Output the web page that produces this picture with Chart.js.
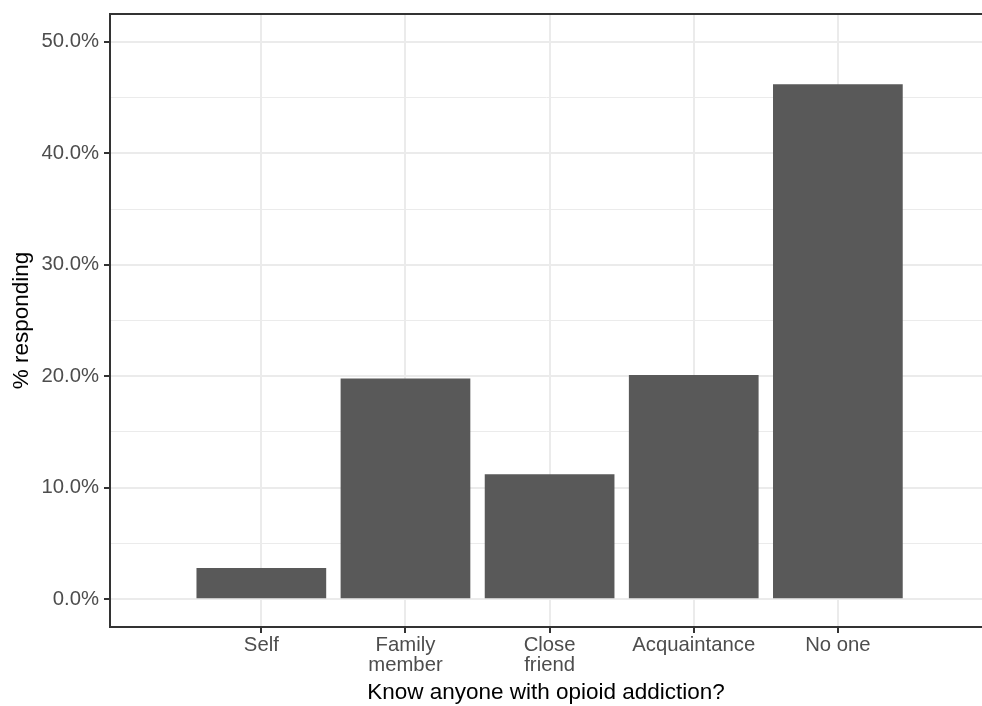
<!DOCTYPE html>
<html>
<head>
<meta charset="utf-8">
<script src="https://cdn.jsdelivr.net/npm/chart.js@4.4.1/dist/chart.umd.min.js"></script>
<style>
  body { margin: 0; background: #ffffff; }
  #wrap { width: 982px; height: 706px; overflow: hidden; }
</style>
</head>
<body>
<div id="wrap"><canvas id="chart" width="982" height="706"></canvas></div>
<script>
// x categories (multi-line labels as arrays)
var categories = ['Self', ['Family', 'member'], ['Close', 'friend'], 'Acquaintance', 'No one'];
// % responding
var percents = [2.8, 19.8, 11.2, 20.1, 46.2];
// y axis ticks
var majorTicks = [0, 10, 20, 30, 40, 50];
var minorTicks = [5, 15, 25, 35, 45];

var points = [];
for (var i = 0; i < percents.length; i++) {
  points.push({ x: i + 1, y: percents[i] });
}

function isMajor(v) { return majorTicks.indexOf(v) >= 0; }

// panel border, theme_bw style (right side is cut off in the reference)
var panelBorder = {
  id: 'panelBorder',
  afterDraw: function (chart) {
    var a = chart.chartArea, ctx = chart.ctx;
    ctx.save();
    ctx.strokeStyle = '#333333';
    ctx.lineWidth = 2;
    ctx.beginPath();
    ctx.moveTo(chart.width, a.top);
    ctx.lineTo(a.left, a.top);
    ctx.lineTo(a.left, a.bottom);
    ctx.lineTo(chart.width, a.bottom);
    ctx.stroke();
    ctx.restore();
  }
};

Chart.defaults.font.family = "'Liberation Sans', Arial, Helvetica, sans-serif";

new Chart(document.getElementById('chart'), {
  type: 'bar',
  data: {
    datasets: [{
      label: '% responding',
      data: points,
      backgroundColor: '#595959',
      borderWidth: 0,
      barPercentage: 0.9,
      categoryPercentage: 1.0
    }]
  },
  options: {
    responsive: false,
    animation: false,
    layout: { padding: { top: 14, left: 0, right: 0, bottom: 0 } },
    plugins: {
      legend: { display: false },
      tooltip: { enabled: false }
    },
    scales: {
      x: {
        type: 'linear',
        min: -0.05,
        max: 6,
        offset: false,
        afterBuildTicks: function (s) {
          s.ticks = categories.map(function (c, i) { return { value: i + 1 }; });
        },
        afterFit: function (s) { s.height = 79; },
        ticks: {
          callback: function (v) { return categories[v - 1]; },
          color: '#4d4d4d',
          font: { size: 20.3, lineHeight: 0.95 },
          padding: 3,
          maxRotation: 0,
          autoSkip: false
        },
        grid: {
          offset: false,
          color: '#ebebeb',
          lineWidth: 2,
          drawTicks: true,
          tickLength: 6,
          tickColor: '#333333',
          tickWidth: 2
        },
        border: { display: true, color: '#333333', width: 2 },
        title: {
          display: true,
          text: 'Know anyone with opioid addiction?',
          color: '#000000',
          font: { size: 22.5 },
          padding: { top: 0, bottom: 0 }
        }
      },
      y: {
        min: -2.5,
        max: 52.5,
        afterBuildTicks: function (s) {
          var all = majorTicks.concat(minorTicks).sort(function (a, b) { return a - b; });
          s.ticks = all.map(function (v) { return { value: v }; });
        },
        afterFit: function (s) {
          s.width = 110;
          s.paddingTop = 0;
          s.paddingBottom = 0;
        },
        ticks: {
          callback: function (v) { return isMajor(v) ? v.toFixed(1) + '%' : ''; },
          color: '#4d4d4d',
          font: { size: 20.3 },
          padding: 5
        },
        grid: {
          color: '#ebebeb',
          lineWidth: function (ctx) { return ctx.tick && isMajor(ctx.tick.value) ? 2 : 1; },
          drawTicks: true,
          tickLength: 6,
          tickWidth: 2,
          tickColor: function (ctx) { return ctx.tick && isMajor(ctx.tick.value) ? '#333333' : 'rgba(0,0,0,0)'; }
        },
        border: { display: true, color: '#333333', width: 2 },
        title: {
          display: true,
          text: '% responding',
          color: '#000000',
          font: { size: 22.5 },
          padding: { top: 8, bottom: 0 }
        }
      }
    }
  },
  plugins: [panelBorder]
});
</script>
</body>
</html>
